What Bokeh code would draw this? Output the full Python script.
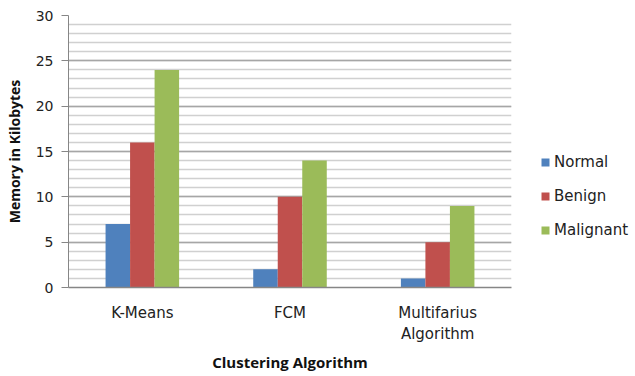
from bokeh.plotting import figure
from bokeh.models import ColumnDataSource, FactorRange, Legend, LegendItem, SingleIntervalTicker
from bokeh.transform import dodge
from bokeh.embed import file_html
from bokeh.resources import INLINE

categories = ["K-Means", "FCM", "Multifarius\nAlgorithm"]
normal = [7, 2, 1]
benign = [16, 10, 5]
malignant = [24, 14, 9]
series_names = ["Normal", "Benign", "Malignant"]
colors = ["#4F81BD", "#C0504D", "#9BBB59"]
y_ticks = [0, 5, 10, 15, 20, 25, 30]

src = ColumnDataSource(dict(cat=categories, Normal=normal, Benign=benign, Malignant=malignant))

p = figure(x_range=FactorRange(*categories), y_range=(0, 30),
           frame_width=443, frame_height=272,
           output_backend="svg", toolbar_location=None,
           min_border_left=68, min_border_top=15, min_border_bottom=86, min_border_right=112)

bw = 0.166
offsets = [-bw, 0, bw]
renderers = []
for name, col, off in zip(series_names, colors, offsets):
    r = p.vbar(x=dodge("cat", off, range=p.x_range), top=name, width=bw, source=src,
               fill_color=col, line_color=None)
    renderers.append(r)

p.outline_line_color = None
p.background_fill_color = "white"

# y axis
p.yaxis.ticker = y_ticks
p.yaxis.minor_tick_line_color = None
p.yaxis.major_tick_in = 0
p.yaxis.major_tick_out = 7
p.yaxis.major_tick_line_color = "#868686"
p.yaxis.axis_line_color = "#868686"
p.yaxis.major_label_text_font = "DejaVu Sans"
p.yaxis.major_label_text_font_size = "14px"
p.yaxis.major_label_text_color = "#222222"
p.yaxis.major_label_standoff = 8
p.yaxis.axis_label = "Memory in Kilobytes"
p.yaxis.axis_label_text_font = "Open Sans"
p.yaxis.axis_label_text_font_style = "bold"
p.yaxis.axis_label_text_font_size = "14px"
p.yaxis.axis_label_text_color = "#111111"
p.yaxis.axis_label_standoff = 9

# x axis
p.xaxis.major_tick_line_color = None
p.xaxis.minor_tick_line_color = None
p.xaxis.axis_line_color = "#868686"
p.xaxis.axis_line_width = 1.5
p.xaxis.major_label_text_font = "DejaVu Sans"
p.xaxis.major_label_text_font_size = "15px"
p.xaxis.major_label_text_color = "#222222"
p.xaxis.major_label_standoff = 10
p.xaxis.axis_label = "Clustering Algorithm"
p.xaxis.axis_label_text_font = "Open Sans"
p.xaxis.axis_label_text_font_style = "bold"
p.xaxis.axis_label_text_font_size = "15px"
p.xaxis.axis_label_text_color = "#111111"
p.xaxis.axis_label_standoff = 6

# grid
p.xgrid.grid_line_color = None
p.ygrid.ticker = SingleIntervalTicker(interval=5, num_minor_ticks=5)
p.ygrid.grid_line_color = "#A6A6A6"
p.ygrid.grid_line_width = 1.5
p.ygrid.minor_grid_line_color = "#D0D0D0"
p.ygrid.minor_grid_line_width = 1.5

legend = Legend(items=[LegendItem(label=n, renderers=[r]) for n, r in zip(series_names, renderers)],
                location=(29, 47), border_line_color=None, background_fill_alpha=0,
                glyph_width=10, glyph_height=10, label_height=20, spacing=14,
                label_text_font="DejaVu Sans", label_text_font_size="15px",
                label_text_color="#222222", padding=0, margin=0, label_standoff=4)
p.add_layout(legend, "right")

open("out.html", "w").write(file_html(p, INLINE))
